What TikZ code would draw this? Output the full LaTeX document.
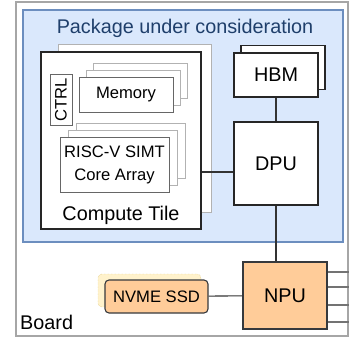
\documentclass[tikz,border=0pt]{standalone}
\usepackage{fontspec}
\setmainfont{Liberation Sans}
\usepackage{xcolor}
\usepackage{tikz}
\usetikzlibrary{calc}
\definecolor{pkgfill}{HTML}{DAE8FC}
\definecolor{pkgline}{HTML}{6C8EBF}
\definecolor{pkgtext}{HTML}{1F3F6B}
\definecolor{peach}{HTML}{FFCC99}
\definecolor{darkline}{HTML}{36393D}
\definecolor{notefill}{HTML}{FFF2CC}
\definecolor{noteline}{HTML}{D6B656}
\newcommand{\bigfont}{\fontsize{19.8}{22}\selectfont}
\newcommand{\smallfont}{\fontsize{16.6}{23}\selectfont}
\tikzset{
  unit/.style={rectangle, draw=black!85, fill=white, line width=1.1pt,
    align=center, font=\bigfont, inner sep=0pt},
  sheet/.style={rectangle, draw=black!30, fill=white, line width=1pt, inner sep=0pt},
  inner/.style={rectangle, draw=black!60, fill=white, line width=1pt,
    align=center, font=\smallfont, inner sep=0pt},
  hot/.style={unit, draw=darkline, fill=peach},
  link/.style={line width=1.1pt, draw=black!80},
  port/.style={line width=2.6pt, draw=black!55},
}

\begin{document}
\begin{tikzpicture}[x=1pt,y=-1pt]
  \useasboundingbox (0,0) rectangle (350,340);
  % board and package
  \node[rectangle, draw=black!35, line width=1.3pt, minimum width=332pt, minimum height=334pt]
    (board) at (182,169) {};
  \node[anchor=west, font=\bigfont, inner sep=0pt] (boardlbl) at (20,322) {Board};
  \node[rectangle, draw=pkgline, fill=pkgfill, line width=1.1pt, minimum width=320pt, minimum height=232pt]
    (pkg) at (183,126) {};
  \node[font=\bigfont, text=pkgtext, inner sep=0pt] (pkglbl) at (185,28) {Package under consideration};

  % compute tile, one copy behind
  \node[sheet, minimum width=153pt, minimum height=168pt] (tileback) at (134.5,128) {};
  \node[unit, line width=1.4pt, minimum width=160pt, minimum height=177pt] (tile) at (121,140.5) {};
  \node[font=\bigfont, inner sep=0pt] (tilelbl) at (121,215) {Compute Tile};
  \node[inner, rotate=90, minimum width=51pt, minimum height=22pt] (ctrl) at (61,99.5) {CTRL};

  % stacked memory and core array
  \foreach \d in {2,1}{
    \node[sheet, minimum width=94pt, minimum height=35pt] at ($(126,94.5)+(7*\d,-7*\d)$) {};
    \node[sheet, minimum width=109pt, minimum height=55pt] at ($(114.5,164.5)+(8*\d,-7*\d)$) {};
  }
  \node[inner, minimum width=94pt, minimum height=35pt] (mem) at (126,94.5) {Memory};
  \node[inner, minimum width=109pt, minimum height=55pt] (core) at (114.5,164.5) {RISC-V SIMT\\Core Array};

  % HBM, DPU
  \node[unit, minimum width=84pt, minimum height=44pt] (hbmback) at (283,67.5) {};
  \node[unit, minimum width=84pt, minimum height=44pt] (hbm) at (276,75) {HBM};
  \node[unit, minimum width=84pt, minimum height=83pt] (dpu) at (276,163.5) {DPU};

  % NPU and SSD on the board
  \node[hot, minimum width=84pt, minimum height=67pt] (npu) at (285,295.5) {NPU};
  \node[rectangle, rounded corners=4pt, draw=noteline, densely dotted, fill=notefill,
    minimum width=103pt, minimum height=33pt] (ssdback) at (149.5,290.5) {};
  \node[hot, rounded corners=4pt, font=\smallfont, minimum width=103pt, minimum height=33pt]
    (ssd) at (156.5,296.5) {NVME SSD};

  % links
  \draw[link] (hbm) -- (dpu);
  \draw[link] (dpu.south) -- (dpu.south |- npu.north);
  \draw[link] ($(dpu.west)+(0,8.5)$) -- ($(dpu.west -| tile.east)+(0,8.5)$);
  \draw[link] (ssd) -- (npu);
  \foreach \dy in {-23.5,-8.5,9.5,26.5}
    \draw[port] ($(npu.east)+(0.6,\dy)$) -- ($(npu.east -| board.east)+(0,\dy)$);
\end{tikzpicture}
\end{document}
